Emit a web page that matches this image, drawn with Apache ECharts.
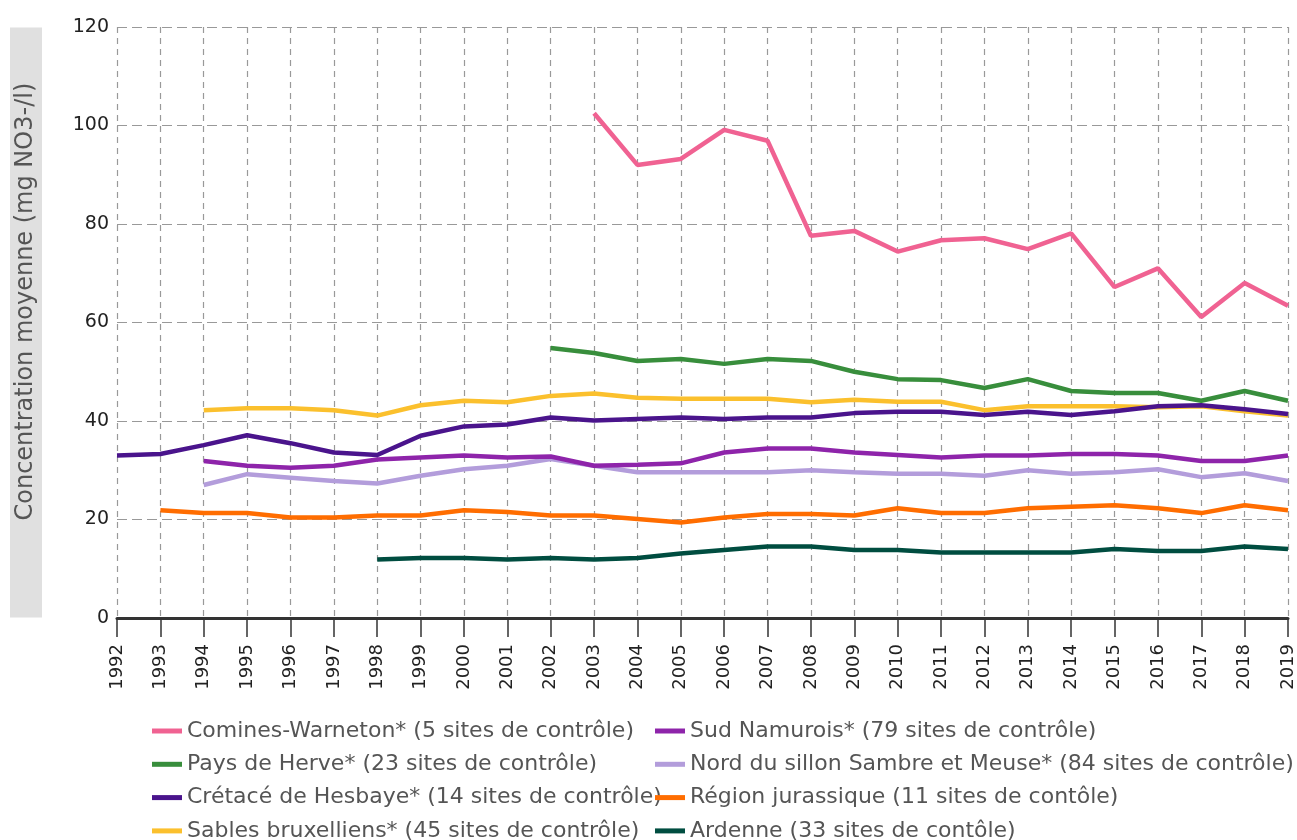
<!DOCTYPE html>
<html>
<head>
<meta charset="utf-8">
<script src="https://cdn.jsdelivr.net/npm/echarts@6/dist/echarts.min.js"></script>
<style>
html,body{margin:0;padding:0;background:#fff;}
#chart{width:1297px;height:840px;}
</style>
</head>
<body>
<div id="chart"></div>
<script>
const years = ['1992','1993','1994','1995','1996','1997','1998','1999','2000','2001','2002','2003','2004','2005','2006','2007','2008','2009','2010','2011','2012','2013','2014','2015','2016','2017','2018','2019'];

const cominesWarneton = [null,null,null,null,null,null,null,null,null,null,null,102.5,92,93.2,99.1,96.9,77.6,78.6,74.4,76.7,77.1,74.9,78.1,67.2,71,61.1,68,63.4];
const paysDeHerve = [null,null,null,null,null,null,null,null,null,null,54.8,53.8,52.2,52.6,51.6,52.6,52.2,50,48.5,48.3,46.7,48.5,46.1,45.7,45.7,44.1,46.1,44.1];
const cretaceHesbaye = [33,33.3,35.1,37.1,35.5,33.6,33.1,37,38.9,39.3,40.7,40.1,40.4,40.7,40.4,40.7,40.7,41.6,41.9,41.9,41.2,41.9,41.2,42,43,43.2,42.4,41.4];
const sablesBruxelliens = [null,null,42.2,42.6,42.6,42.2,41.1,43.2,44.1,43.8,45.1,45.6,44.7,44.5,44.5,44.5,43.8,44.3,43.9,43.9,42.2,43,43,43,42.8,43,42,41.1];
const sudNamurois = [null,null,31.9,30.9,30.5,30.9,32.2,32.6,33,32.6,32.8,30.9,31.1,31.4,33.6,34.4,34.4,33.6,33.1,32.6,33,33,33.3,33.3,33,31.9,31.9,33];
const nordSillon = [null,null,27,29.2,28.5,27.8,27.3,28.9,30.2,30.9,32.3,30.9,29.6,29.6,29.6,29.6,30,29.6,29.3,29.3,28.9,30,29.3,29.6,30.2,28.6,29.4,27.8];
const regionJurassique = [null,21.9,21.3,21.3,20.4,20.4,20.8,20.8,21.9,21.5,20.8,20.8,20.1,19.4,20.4,21.1,21.1,20.8,22.3,21.3,21.3,22.3,22.6,22.9,22.3,21.3,22.9,21.9];
const ardenne = [null,null,null,null,null,null,11.9,12.2,12.2,11.9,12.2,11.9,12.2,13.1,13.8,14.5,14.5,13.8,13.8,13.3,13.3,13.3,13.3,14,13.6,13.6,14.5,14];

const seriesNames = [
  'Comines-Warneton* (5 sites de contrôle)',
  'Pays de Herve* (23 sites de contrôle)',
  'Crétacé de Hesbaye* (14 sites de contrôle)',
  'Sables bruxelliens* (45 sites de contrôle)',
  'Sud Namurois* (79 sites de contrôle)',
  'Nord du sillon Sambre et Meuse* (84 sites de contrôle)',
  'Région jurassique (11 sites de contôle)',
  'Ardenne (33 sites de contôle)'
];
const seriesData = [cominesWarneton, paysDeHerve, cretaceHesbaye, sablesBruxelliens, sudNamurois, nordSillon, regionJurassique, ardenne];
const seriesColors = ['#F06292','#388E3C','#4A148C','#FBC02D','#8E24AA','#B39DDB','#FF6D00','#004D40'];
const yAxisTitle = 'Concentration moyenne (mg NO3-/l)';

const FONT = 'DejaVu Sans';
const NAME_SIZE = 24;
// measure the axis title to size its grey band to the plot height
const cv = document.createElement('canvas').getContext('2d');
cv.font = NAME_SIZE + 'px "' + FONT + '"';
const nameW = cv.measureText(yAxisTitle).width;
const bandLen = 590;
const padStart = 97;
const padEnd = Math.max(0, bandLen - nameW - padStart);

const chart = echarts.init(document.getElementById('chart'), null, {renderer:'canvas'});

const legendCommon = {
  orient: 'vertical',
  top: 720,
  height: 140,
  padding: 0,
  itemWidth: 30,
  itemHeight: 5,
  itemGap: 11.3,
  icon: 'rect',
  textStyle: {fontFamily: FONT, fontSize: 22, color: '#555', lineHeight: 22}
};

chart.setOption({
  animation: false,
  backgroundColor: '#fff',
  textStyle: {fontFamily: FONT},
  grid: {left: 117, right: 9, top: 27, bottom: 222, containLabel: false},
  legend: [
    Object.assign({}, legendCommon, {left: 152, data: seriesNames.slice(0,4)}),
    Object.assign({}, legendCommon, {left: 655, data: seriesNames.slice(4,8)})
  ],
  xAxis: {
    type: 'category',
    data: years,
    boundaryGap: false,
    axisLine: {show: true, lineStyle: {color: '#333', width: 3}},
    axisTick: {show: true, interval: 0, length: 19, lineStyle: {color: '#333', width: 1.5}},
    axisLabel: {interval: 0, rotate: 90, margin: 26, fontFamily: FONT, fontSize: 18, color: '#222'},
    splitLine: {show: true, interval: 0, lineStyle: {color: '#999', type: [6,5], width: 1.2}}
  },
  yAxis: {
    type: 'value',
    min: 0, max: 120, interval: 20,
    name: yAxisTitle,
    nameLocation: 'middle',
    nameGap: 75,
    nameRotate: 90,
    nameTextStyle: {fontFamily: FONT, fontSize: NAME_SIZE, lineHeight: 24, color: '#555', backgroundColor: '#e0e0e0', padding: [4, padEnd, 4, padStart]},
    axisLine: {show: false},
    axisTick: {show: false},
    axisLabel: {fontFamily: FONT, fontSize: 19, color: '#222', margin: 8},
    splitLine: {show: true, lineStyle: {color: '#999', type: [10,5], width: 1.2}}
  },
  series: seriesNames.map((n, i) => ({
    name: n,
    type: 'line',
    data: seriesData[i],
    showSymbol: false,
    symbol: 'none',
    connectNulls: false,
    lineStyle: {width: 4.5, color: seriesColors[i]},
    itemStyle: {color: seriesColors[i]},
    z: 10 - i
  }))
});
</script>
</body>
</html>
